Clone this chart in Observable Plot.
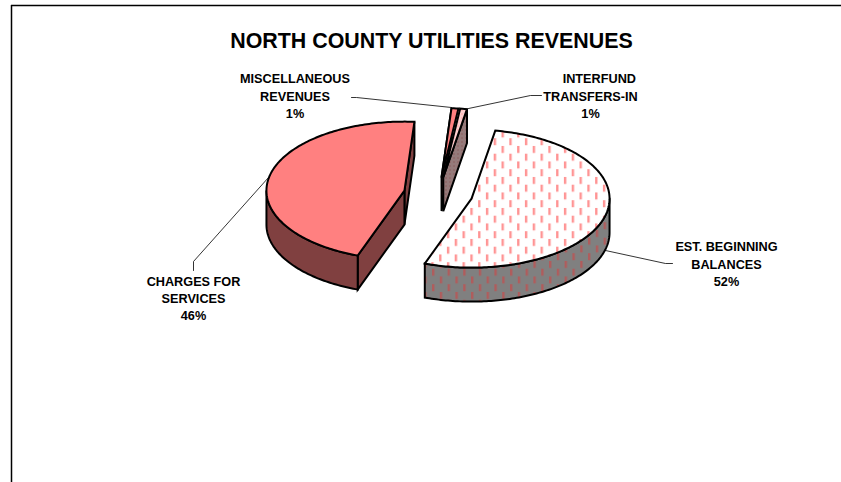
<!DOCTYPE html>
<html>
<head>
<meta charset="utf-8">
<script src="https://cdn.jsdelivr.net/npm/d3@7"></script>
<script src="https://cdn.jsdelivr.net/npm/@observablehq/plot@0.6"></script>
<style>html,body{margin:0;padding:0;background:#fff}svg{display:block}</style>
</head>
<body>
<div id="chart"></div>
<script>
const chartTitle = "NORTH COUNTY UTILITIES REVENUES";
const categories = ["EST. BEGINNING\nBALANCES", "CHARGES FOR\nSERVICES", "MISCELLANEOUS\nREVENUES", "\u00a0\u00a0\u00a0\u00a0\u00a0INTERFUND\nTRANSFERS-IN"];
const values = [52.75, 45.65, 0.8, 0.8];
const percentLabels = ["52%", "46%", "1%", "1%"];
const labelX = [726, 193, 294.5, 590];
const labelY = [262.5, 297, 94.5, 94.5];
const topFills = ["url(#dashWhite)", "#ff8080", "#ff8080", "url(#dotWhite)"];
const wallFills = ["url(#dashGray)", "#804040", "#804040", "url(#dotGray)"];
const leaders = [
  [[605, 250], [665, 263], [672, 263]],
  [[268, 177], [193, 261], [193, 270]],
  [[451, 107], [356, 97], [351, 97]],
  [[468, 108], [530, 95], [541, 95]]
];

// pie geometry
const cx = 437.7, cy = 193.7, rx = 138, ry = 69, depth = 34, explode = 0.25, startDeg = 9.9;
const rad = d => d * Math.PI / 180;
const total = d3.sum(values);

let acc = startDeg;
const slices = values.map((v, i) => {
  const a0 = acc, a1 = acc + v / total * 360;
  acc = a1;
  const mid = rad((a0 + a1) / 2);
  return {i, a0, a1, ox: cx + explode * rx * Math.sin(mid), oy: cy - explode * ry * Math.cos(mid)};
});
const rim = (s, deg, dz = 0) => ({x: s.ox + rx * Math.sin(rad(deg)), y: s.oy - ry * Math.cos(rad(deg)) + dz});
const arc = (s, from, to, dz = 0) => {
  const n = Math.max(2, Math.ceil(Math.abs(to - from)));
  return d3.range(n + 1).map(k => rim(s, from + (to - from) * k / n, dz));
};
const apex = (s, dz = 0) => ({x: s.ox, y: s.oy + dz});
const closed = pts => [...pts, pts[0]];

const faces = [];
function outerWall(s) {
  const from = Math.max(s.a0, 90), to = Math.min(s.a1, 270);
  if (to <= from) return;
  faces.push({pts: closed([...arc(s, from, to), ...arc(s, to, from, depth)]), fill: wallFills[s.i]});
}
function cutFace(s, deg) {
  faces.push({pts: closed([apex(s), rim(s, deg), rim(s, deg, depth), apex(s, depth)]), fill: wallFills[s.i]});
}
const topFace = s => faces.push({pts: closed([apex(s), ...arc(s, s.a0, s.a1)]), fill: topFills[s.i]});

const [est, charges, misc, inter] = slices;
// back-to-front
cutFace(charges, charges.a1);
cutFace(charges, charges.a0);
outerWall(charges);
topFace(charges);
cutFace(misc, misc.a0);
topFace(misc);
cutFace(inter, inter.a1);
topFace(inter);
outerWall(est);
topFace(est);

const defs = () => d3.create("svg:defs").html(`
  <pattern id="dashWhite" patternUnits="userSpaceOnUse" x="9.6" y="13.7" width="15.6" height="15.5">
    <rect width="15.6" height="15.5" fill="#fff"/>
    <rect x="0" y="0" width="2.4" height="7" fill="#ff9494"/>
    <rect x="7.8" y="7.75" width="2.4" height="7" fill="#ff9494"/>
  </pattern>
  <pattern id="dashGray" patternUnits="userSpaceOnUse" x="10.3" y="4.7" width="15.6" height="15.5">
    <rect width="15.6" height="15.5" fill="#808080"/>
    <rect x="0" y="0" width="2.4" height="7" fill="#b05c5c"/>
    <rect x="7.8" y="7.75" width="2.4" height="7" fill="#b05c5c"/>
  </pattern>
  <pattern id="dotWhite" patternUnits="userSpaceOnUse" width="4" height="4">
    <rect width="4" height="4" fill="#ffd0d0"/>
    <rect x="1" y="1" width="1" height="1" fill="#ff8080"/>
  </pattern>
  <pattern id="dotGray" patternUnits="userSpaceOnUse" width="4" height="4">
    <rect width="4" height="4" fill="#957a7a"/>
    <rect x="1" y="1" width="1" height="1" fill="#804040"/>
  </pattern>`).node();

const labelRows = categories.map((c, i) => ({
  text: `${c}\n${percentLabels[i]}`, x: labelX[i], y: labelY[i]
}));

const plot = Plot.plot({
  width: 841,
  height: 482,
  margin: 0,
  x: {domain: [0, 841], range: [0, 841], axis: null},
  y: {domain: [0, 482], range: [0, 482], axis: null},
  marks: [
    defs,
    Plot.ruleY([5], {x1: 11, x2: 841, stroke: "#000", strokeWidth: 1.5}),
    Plot.ruleX([11], {y1: 5, y2: 482, stroke: "#000", strokeWidth: 1.5}),
    ...leaders.map(l => Plot.line(l, {x: d => d[0], y: d => d[1], stroke: "#000", strokeWidth: 0.8})),
    ...faces.map(f => Plot.line(f.pts, {
      x: "x", y: "y", fill: f.fill, stroke: "#000", strokeWidth: 2, strokeLinejoin: "miter", strokeMiterlimit: 4
    })),
    Plot.text(labelRows, {
      x: "x", y: "y", text: "text", fill: "#000", fontFamily: "Liberation Sans, Arial, sans-serif",
      fontWeight: "bold", fontSize: 12.7, lineHeight: 1.37, textAnchor: "middle"
    }),
    Plot.text([chartTitle], {
      x: () => 431, y: () => 41, text: d => d, fill: "#000", fontFamily: "Liberation Sans, Arial, sans-serif",
      fontWeight: "bold", fontSize: 21.4, textAnchor: "middle"
    })
  ]
});
document.getElementById("chart").append(plot);
</script>
</body>
</html>
